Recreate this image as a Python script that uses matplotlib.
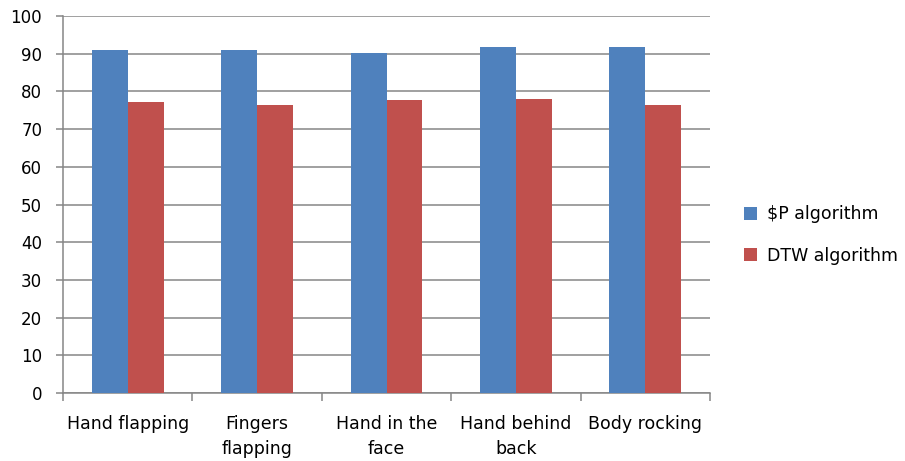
import matplotlib
matplotlib.use("Agg")
import matplotlib.pyplot as plt
import numpy as np

categories = ["Hand flapping", "Fingers\nflapping", "Hand in the\nface", "Hand behind\nback", "Body rocking"]
p_values = [91.1, 91.1, 90.1, 91.8, 91.8]
dtw_values = [77.2, 76.5, 77.7, 78.0, 76.5]
series_names = [r"\$P algorithm", "DTW algorithm"]
yticks = list(range(0, 101, 10))

plt.rcParams['font.family'] = ['DejaVu Sans']
fig = plt.figure(figsize=(9.05, 4.61), dpi=100)
ax = fig.add_axes([63/905, 1-393/461, (710-63)/905, (393-16)/461])

x = np.arange(len(categories))
w = 0.278
grid_c = "#868686"
ax.bar(x - w/2, p_values, width=w, color="#4F81BD", label=series_names[0], zorder=3)
ax.bar(x + w/2, dtw_values, width=w, color="#C0504D", label=series_names[1], zorder=3)

ax.set_xlim(-0.5, len(categories) - 0.5)
ax.set_ylim(0, 100)
ax.set_yticks(yticks)
ax.set_yticklabels([str(t) for t in yticks], fontsize=12)
ax.yaxis.grid(True, color=grid_c, linewidth=1.1, zorder=0)
ax.set_axisbelow(True)

ax.set_xticks(x)
ax.set_xticklabels(categories, fontsize=12.5, linespacing=1.45)
ax.set_xticks(np.arange(len(categories) + 1) - 0.5, minor=True)
ax.tick_params(axis='x', which='major', length=0, pad=16)
ax.tick_params(axis='x', which='minor', length=6, color=grid_c, width=1.1)
ax.tick_params(axis='y', length=5, color=grid_c, width=1.1, pad=10)

for s in ['top', 'right']:
    ax.spines[s].set_visible(False)
for s in ['left', 'bottom']:
    ax.spines[s].set_color(grid_c)
    ax.spines[s].set_linewidth(1.1)

fig.legend(loc='center left', bbox_to_anchor=(744/905, 1-235/461), frameon=False,
           borderpad=0, borderaxespad=0,
           fontsize=12.5, handlelength=0.75, handleheight=0.75, labelspacing=1.35, handletextpad=0.6)

fig.savefig("out.png", dpi=100)
